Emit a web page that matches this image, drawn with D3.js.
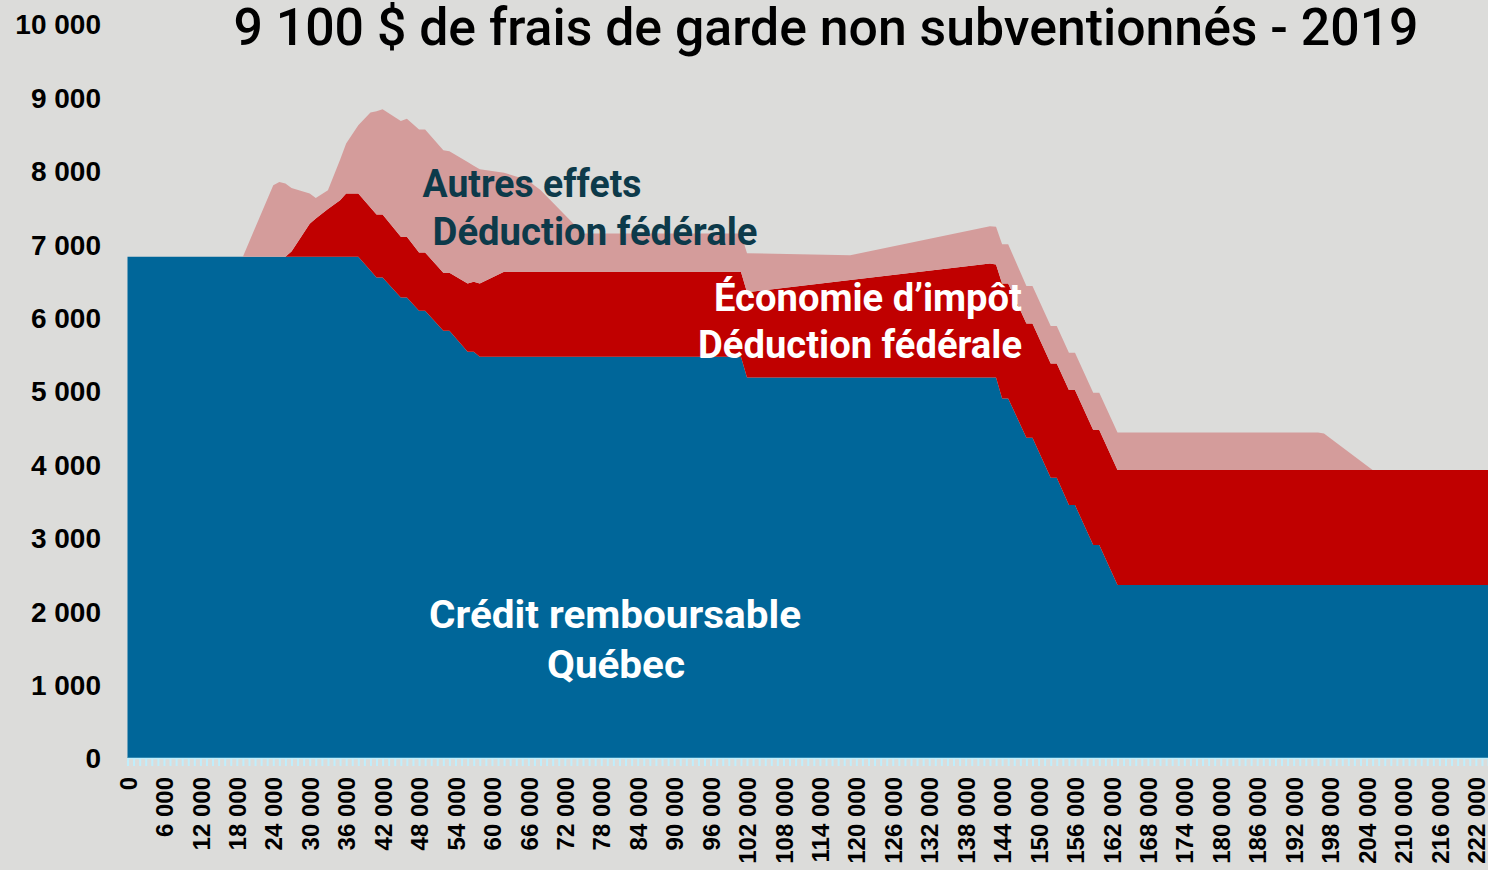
<!DOCTYPE html>
<html>
<head>
<meta charset="utf-8">
<script src="https://cdn.jsdelivr.net/npm/d3@7"></script>
<style>
  body { margin: 0; background: #dcdcda; }
  svg { display: block; }
</style>
</head>
<body>
<div id="chart"></div>
<script>
// revenu familial (milliers de $)
const revenus = [0, 19, 24, 25, 26, 27, 30, 31, 33, 35, 36, 38, 40, 41, 42, 45, 46, 48, 49, 52, 53, 56, 57, 58,
  62, 66, 67, 68, 75, 101, 102, 119, 142, 143, 144, 145, 148, 149, 152, 153, 155, 156, 159, 160,
  163, 196, 197, 205, 224]

// Crédit remboursable Québec
const creditQuebec = [6830, 6830, 6830, 6830, 6830, 6830, 6830, 6830, 6830, 6830, 6830, 6830, 6641, 6547, 6547, 6275, 6275, 6092, 6092, 5820, 5820, 5534, 5534, 5466,
  5466, 5466, 5466, 5466, 5466, 5466, 5185, 5185, 5185, 5185, 4899, 4899, 4363, 4363, 3818, 3818, 3446, 3446, 2901, 2901,
  2356, 2356, 2356, 2356, 2356]

// Économie d'impôt - déduction fédérale
const economieFederale = [0, 0, 0, 0, 0, 70, 450, 520, 650, 770, 860, 860, 860, 859, 859, 825, 825, 795, 795, 790, 790, 931, 954, 999,
  1158, 1158, 1158, 1158, 1158, 1158, 1161, 1328, 1553, 1540, 1566, 1566, 1557, 1557, 1557, 1557, 1566, 1566, 1566, 1566,
  1567, 1567, 1567, 1567, 1567]

// Autres effets - déduction fédérale
const autresEffets = [0, 0, 974, 1019, 996, 866, 411, 280, 256, 550, 682, 931, 1292, 1404, 1432, 1577, 1610, 1676, 1676, 1671, 1657, 1656, 1582, 1557,
  1351, 1246, 1176, 1116, 522, 522, 530, 338, 508, 513, 534, 534, 509, 509, 509, 509, 509, 509, 509, 509,
  513, 513, 497, 0, 0]

const yTicks = [0, 1000, 2000, 3000, 4000, 5000, 6000, 7000, 8000, 9000, 10000]
const xLabelStep = 6000
const xMax = 224000

const titre = '9 100 $ de frais de garde non subventionnés - 2019'

let w = 1488
let h = 870

let table = revenus.map(function (r, i) {
  return {
    revenu: r * 1000,
    quebec: creditQuebec[i],
    federal: economieFederale[i],
    autres: autresEffets[i]
  }
})

let keys = ['quebec', 'federal', 'autres']
let colors = { quebec: '#006699', federal: '#c00000', autres: '#d49c9b' }

let stack = d3.stack().keys(keys)
let series = stack(table)

let x = d3.scaleLinear().domain([0, xMax]).range([127.5, 1488])
let y = d3.scaleLinear().domain([0, 10000]).range([758, 24])

let nf = d3.formatLocale({ decimal: ',', thousands: ' ', grouping: [3], currency: ['', ' $'] }).format(',')

let svg = d3.select('#chart').append('svg')
  .attr('width', w)
  .attr('height', h)
  .style('background', '#dcdcda')

let area = d3.area()
  .x(function (d) { return x(d.data.revenu) })
  .y0(function (d) { return y(d[0]) })
  .y1(function (d) { return y(d[1]) })

svg.append('g')
  .selectAll('path')
  .data(series)
  .enter()
  .append('path')
  .attr('d', area)
  .attr('fill', function (d) { return colors[d.key] })

// small ticks every 1000
let xMinor = svg.append('g')
  .attr('transform', 'translate(0,758)')
  .call(d3.axisBottom(x)
    .tickValues(d3.range(0, xMax + 1, 1000))
    .tickSize(8)
    .tickSizeOuter(0)
    .tickFormat(''))
xMinor.select('.domain').attr('stroke', '#bfeefc').attr('stroke-width', 1.5)
xMinor.selectAll('.tick line').attr('stroke', '#bfeefc').attr('stroke-width', 2)

// x labels every 6000
let xLab = svg.append('g')
  .attr('transform', 'translate(0,758)')
  .call(d3.axisBottom(x)
    .tickValues(d3.range(0, 222001, xLabelStep))
    .tickSize(0)
    .tickFormat(nf))
xLab.select('.domain').remove()
xLab.selectAll('text')
  .attr('transform', 'rotate(-90)')
  .attr('text-anchor', 'end')
  .attr('x', -19)
  .attr('y', 0)
  .attr('dy', '0.36em')
  .style('font-family', '"Liberation Sans", Arial, sans-serif')
  .style('font-weight', 'bold')
  .style('font-size', '24px')
  .attr('fill', '#000')

// y axis
let yAx = svg.append('g')
  .attr('transform', 'translate(101,0)')
  .call(d3.axisLeft(y).tickValues(yTicks).tickSize(0).tickFormat(nf))
yAx.select('.domain').remove()
yAx.selectAll('text')
  .attr('x', 0)
  .attr('dy', '0.35em')
  .style('font-family', '"Liberation Sans", Arial, sans-serif')
  .style('font-weight', 'bold')
  .style('font-size', '28px')
  .attr('fill', '#000')

// title
svg.append('text')
  .attr('x', 826)
  .attr('y', 45)
  .attr('text-anchor', 'middle')
  .attr('textLength', 1185)
  .attr('lengthAdjust', 'spacingAndGlyphs')
  .style('font-family', 'Roboto, sans-serif')
  .style('font-weight', 500)
  .style('font-size', '52px')
  .attr('fill', '#000')
  .text(titre)

// labels in the areas
let labels = [
  { t: 'Autres effets', x: 532, y: 197, a: 'middle', c: '#0d3a4a', len: 219 },
  { t: 'Déduction fédérale', x: 595, y: 245, a: 'middle', c: '#0d3a4a', len: 325 },
  { t: 'Économie d’impôt', x: 1022, y: 311, a: 'end', c: '#fff', len: 308 },
  { t: 'Déduction fédérale', x: 1022, y: 358, a: 'end', c: '#fff', len: 324 },
  { t: 'Crédit remboursable', x: 615, y: 628, a: 'middle', c: '#fff', len: 372 },
  { t: 'Québec', x: 616, y: 678, a: 'middle', c: '#fff', len: 138 }
]

svg.append('g')
  .selectAll('text')
  .data(labels)
  .enter()
  .append('text')
  .attr('x', function (d) { return d.x })
  .attr('y', function (d) { return d.y })
  .attr('text-anchor', function (d) { return d.a })
  .attr('textLength', function (d) { return d.len })
  .attr('lengthAdjust', 'spacingAndGlyphs')
  .attr('fill', function (d) { return d.c })
  .style('font-family', 'Roboto, sans-serif')
  .style('font-weight', 'bold')
  .style('font-size', '38px')
  .text(function (d) { return d.t })
</script>
</body>
</html>
